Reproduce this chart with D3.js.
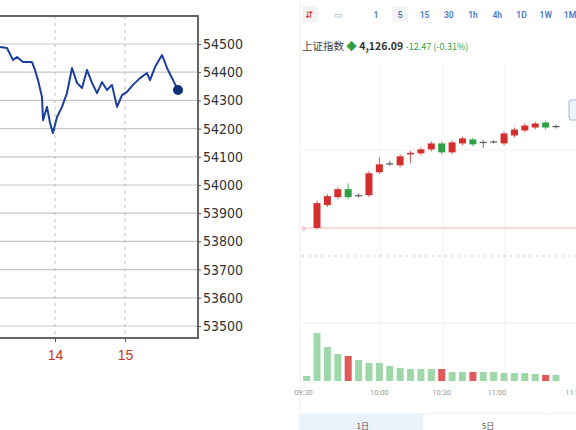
<!DOCTYPE html>
<html><head><meta charset="utf-8">
<script src="https://cdn.jsdelivr.net/npm/d3@7"></script>
<style>body{margin:0;background:#fff}svg{display:block}</style>
</head><body>
<svg id="c" width="576" height="430"></svg>
<script>
// left: intraday line (hour of day, value)
const lineHours = [13.214, 13.314, 13.4, 13.457, 13.543, 13.671, 13.714, 13.757, 13.814, 13.829, 13.886, 13.929, 13.971, 14.029, 14.1, 14.171, 14.243, 14.314, 14.386, 14.457, 14.529, 14.6, 14.671, 14.743, 14.814, 14.886, 14.957, 15.029, 15.114, 15.214, 15.314, 15.357, 15.429, 15.529, 15.6, 15.686, 15.757];
const lineValues = [54489, 54486, 54443, 54454, 54436, 54436, 54408, 54372, 54312, 54230, 54277, 54220, 54184, 54241, 54277, 54326, 54415, 54362, 54344, 54408, 54362, 54326, 54365, 54337, 54355, 54277, 54319, 54330, 54355, 54379, 54397, 54372, 54418, 54461, 54415, 54372, 54337];
const leftTicks = [54500, 54400, 54300, 54200, 54100, 54000, 53900, 53800, 53700, 53600, 53500];
const hourTicks = [14, 15];

// right: candles and volume
const candleOpen  = [4085, 4094.2, 4097.4, 4100.6, 4098, 4098.2, 4107.4, 4110.8, 4110.2, 4114.6, 4115, 4116.6, 4119, 4115.4, 4119, 4120.6, 4119.4, 4119.8, 4119, 4122.2, 4124.2, 4125.4, 4127.4, 4125.8];
const candleClose = [4095, 4097.8, 4100.6, 4097.4, 4098.2, 4107, 4110.6, 4111, 4113.8, 4115.2, 4116.6, 4119, 4115.4, 4119.4, 4121, 4118.6, 4119.6, 4119.6, 4123, 4124.6, 4126.2, 4127, 4125.4, 4126];
const candleHigh  = [4096, 4098.6, 4101.4, 4103, 4099, 4108, 4113.4, 4112, 4114.6, 4116, 4117.4, 4119.8, 4119.8, 4120.2, 4121.8, 4121.4, 4120.4, 4120.4, 4123.8, 4125.4, 4127, 4127.8, 4128.2, 4126.6];
const candleLow   = [4084.4, 4093.4, 4096.6, 4096.6, 4097.2, 4097.4, 4106.6, 4110, 4109.4, 4111, 4114.2, 4115.8, 4114.6, 4114.6, 4118.2, 4117.8, 4117, 4119, 4118.2, 4121.4, 4123.4, 4124.6, 4124.6, 4125];
const volumes = [5, 48, 34, 27, 25, 21, 18, 18, 15, 13, 12, 12, 12, 12, 9, 9, 9, 9, 9, 8, 8, 8, 7, 6, 6];
const volumeUp = [0, 0, 0, 0, 1, 0, 0, 0, 0, 0, 0, 0, 0, 1, 0, 0, 1, 0, 0, 0, 0, 0, 0, 1, 0];
const timeLabels = ['09:30', '10:00', '10:30', '11:00', '11:30'];
const timeLabelX = [-1.3, 6, 12, 17.3, 24.8];
const periods = ['1', '5', '15', '30', '1h', '4h', '1D', '1W', '1M'];
const tabs = ['1日', '5日', '日K'];

const svg = d3.select('#c');
const red = '#d32f2f', green = '#2ea043';

// ---- left chart
const xL = d3.scaleLinear().domain([14, 15]).range([55, 125]);
const yL = d3.scaleLinear().domain([53500, 54500]).range([326, 44]);
const gL = svg.append('g');
gL.selectAll('.hg').data(d3.range(53500, 54601, 100)).join('line')
  .attr('x1', -5).attr('x2', 198).attr('y1', d => yL(d)).attr('y2', d => yL(d))
  .attr('stroke', '#c8c8c8').attr('stroke-width', 1.2);
gL.selectAll('.vg').data(hourTicks).join('line')
  .attr('x1', d => xL(d)).attr('x2', d => xL(d)).attr('y1', 16).attr('y2', 338)
  .attr('stroke', '#bbb').attr('stroke-dasharray', '3,4');
gL.append('rect').attr('x', -5).attr('y', 16).attr('width', 203).attr('height', 322)
  .attr('fill', 'none').attr('stroke', '#555').attr('stroke-width', 1.8);
const axR = d3.axisRight(yL).tickValues(leftTicks).tickSize(3).tickFormat(d3.format('d'));
gL.append('g').attr('transform', 'translate(198,0)').call(axR)
  .call(g => g.select('.domain').remove())
  .call(g => g.selectAll('line').attr('stroke', '#555'))
  .call(g => g.selectAll('text').attr('font-family', 'Liberation Sans Narrow, DejaVu Sans Condensed, sans-serif')
    .attr('font-size', 14).attr('fill', '#333').attr('x', 5));
const axB = d3.axisBottom(xL).tickValues(hourTicks).tickSize(4).tickFormat(d3.format('d'));
gL.append('g').attr('transform', 'translate(0,338)').call(axB)
  .call(g => g.select('.domain').remove())
  .call(g => g.selectAll('line').attr('stroke', '#555'))
  .call(g => g.selectAll('text').attr('font-family', 'Liberation Sans Narrow, sans-serif')
    .attr('font-size', 14).attr('fill', '#c0392b').attr('dy', '1.1em'));
const line = d3.line().x((d, i) => xL(lineHours[i])).y(d => yL(d));
gL.append('path').datum(lineValues).attr('d', line).attr('fill', 'none')
  .attr('stroke', '#1c3f9e').attr('stroke-width', 2).attr('stroke-linejoin', 'round');
gL.append('circle').attr('cx', xL(lineHours[lineHours.length - 1])).attr('cy', yL(lineValues[lineValues.length - 1]))
  .attr('r', 5).attr('fill', '#10307a');

// ---- right panel
const gR = svg.append('g');
gR.append('line').attr('x1', 300).attr('x2', 300).attr('y1', 0).attr('y2', 430).attr('stroke', '#eee');
gR.append('rect').attr('x', 302).attr('y', 6).attr('width', 16).attr('height', 16).attr('fill', '#f3f3f3');
gR.append('text').attr('x', 305).attr('y', 18).attr('font-size', 10).attr('fill', '#d33').text('⇵');
gR.append('text').attr('x', 334).attr('y', 18).attr('font-size', 9).attr('fill', '#8aa8d8').text('▭');
const xP = d3.scalePoint().domain(periods).range([376, 570]);
gR.append('rect').attr('x', 392).attr('y', 6).attr('width', 16).attr('height', 16).attr('fill', '#f4f4f4');
gR.selectAll('.p').data(periods).join('text').attr('x', d => xP(d)).attr('y', 18)
  .attr('text-anchor', 'middle').attr('font-family', 'Roboto, sans-serif').attr('font-size', 8.5)
  .attr('fill', '#4a78c8').attr('font-weight', 600).text(d => d);
const hdr = gR.append('text').attr('x', 302).attr('y', 50).attr('font-family', 'Noto Sans CJK SC, sans-serif').attr('font-size', 10.5);
hdr.append('tspan').attr('fill', '#444').text('上证指数 ');
hdr.append('tspan').attr('fill', green).text('◆ ');
hdr.append('tspan').attr('fill', '#333').attr('font-weight', 700).text('4,126.09 ');
hdr.append('tspan').attr('fill', green).attr('font-size', 9).text('-12.47 (-0.31%)');

const xC = d3.scaleLinear().domain([0, 23]).range([317, 556]);
const yC = d3.scaleLinear().domain([4085, 4126]).range([228, 126]);
[380, 443, 505].forEach(x => gR.append('line').attr('x1', x).attr('x2', x).attr('y1', 62).attr('y2', 382).attr('stroke', '#f2f2f2'));
gR.append('line').attr('x1', 302).attr('x2', 576).attr('y1', 150).attr('y2', 150).attr('stroke', '#f0f0f0');
gR.append('line').attr('x1', 302).attr('x2', 576).attr('y1', yC(4085)).attr('y2', yC(4085)).attr('stroke', '#f5b5b5');
gR.append('text').attr('x', 302).attr('y', yC(4085) + 3).attr('font-size', 6).attr('fill', '#c99').text('0');
gR.append('line').attr('x1', 302).attr('x2', 576).attr('y1', 256).attr('y2', 256).attr('stroke', '#bbb').attr('stroke-dasharray', '2,4.5');
gR.append('line').attr('x1', 302).attr('x2', 576).attr('y1', 323).attr('y2', 323).attr('stroke', '#eee');

const cg = gR.selectAll('.cd').data(candleOpen).join('g');
const cColor = i => candleClose[i] > candleOpen[i] + 0.3 ? red : candleClose[i] < candleOpen[i] - 0.3 ? green : '#555';
cg.append('line').attr('x1', (d, i) => xC(i)).attr('x2', (d, i) => xC(i))
  .attr('y1', (d, i) => yC(candleHigh[i])).attr('y2', (d, i) => yC(candleLow[i]))
  .attr('stroke', (d, i) => cColor(i)).attr('stroke-width', 0.8);
cg.append('rect').attr('x', (d, i) => xC(i) - 3.5).attr('width', 7)
  .attr('y', (d, i) => yC(Math.max(d, candleClose[i])))
  .attr('height', (d, i) => Math.max(1.2, Math.abs(yC(d) - yC(candleClose[i]))))
  .attr('fill', (d, i) => cColor(i));
gR.append('rect').attr('x', 569).attr('y', 100).attr('width', 12).attr('height', 20).attr('rx', 2)
  .attr('fill', '#eef4fc').attr('stroke', '#9cbbe6');

const yV = d3.scaleLinear().domain([0, 48]).range([381, 333]);
gR.selectAll('.v').data(volumes).join('rect')
  .attr('x', (d, i) => xC(i - 1) - 3.5).attr('width', 7)
  .attr('y', d => yV(d)).attr('height', d => yV(0) - yV(d))
  .attr('fill', (d, i) => volumeUp[i] ? '#e05a5a' : '#9fd8a8');
gR.selectAll('.tl').data(timeLabels).join('text')
  .attr('x', (d, i) => xC(timeLabelX[i])).attr('y', 395).attr('text-anchor', 'middle')
  .attr('font-family', 'Roboto, sans-serif').attr('font-size', 7.5).attr('fill', '#999').text(d => d);

const xT = d3.scaleBand().domain(tabs).range([300, 676]);
gR.append('line').attr('x1', 300).attr('x2', 576).attr('y1', 414).attr('y2', 414).attr('stroke', '#e6e6e6');
gR.selectAll('.tb').data(tabs).join('rect').attr('x', d => xT(d)).attr('y', 414)
  .attr('width', xT.bandwidth() - 2).attr('height', 20).attr('fill', (d, i) => i === 0 ? '#eaf2fb' : '#fff');
gR.selectAll('.tt').data(tabs).join('text').attr('x', d => xT(d) + xT.bandwidth() / 2).attr('y', 429)
  .attr('text-anchor', 'middle').attr('font-family', 'Noto Sans CJK SC, sans-serif').attr('font-size', 8)
  .attr('fill', '#555').text(d => d);
</script>
</body></html>
